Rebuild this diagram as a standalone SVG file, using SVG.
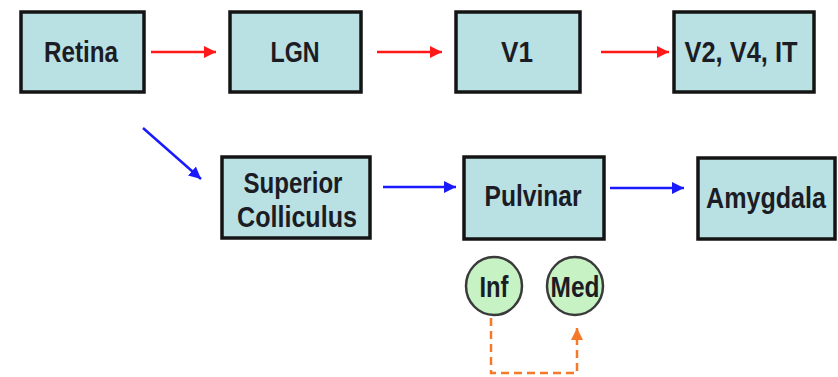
<svg xmlns="http://www.w3.org/2000/svg" width="838" height="377" viewBox="0 0 838 377">
<defs>
<style>
.box{fill:#b9e1e4;stroke:#141414;stroke-width:3.5}
.circ{fill:#c6f2c4;stroke:#3a3a3a;stroke-width:2.5}
.t{font-family:"Liberation Sans Narrow","Liberation Sans",Arial,sans-serif;font-weight:bold;font-size:29px;fill:#1c1c24;text-anchor:middle}
.red{stroke:#ff1a1a;stroke-width:2.5;fill:none;marker-end:url(#ar)}
.blue{stroke:#1a1aff;stroke-width:2.5;fill:none;marker-end:url(#ab)}
.org{stroke:#f47a2a;stroke-width:2.5;fill:none;stroke-dasharray:8 5;marker-end:url(#ao)}
</style>
<marker id="ar" markerUnits="userSpaceOnUse" markerWidth="14" markerHeight="12" refX="12" refY="6" orient="auto"><path d="M0,0 L12,6 L0,12 Z" fill="#ff1a1a"/></marker>
<marker id="ab" markerUnits="userSpaceOnUse" markerWidth="14" markerHeight="12" refX="12" refY="6" orient="auto"><path d="M0,0 L12,6 L0,12 Z" fill="#1a1aff"/></marker>
<marker id="ao" markerUnits="userSpaceOnUse" markerWidth="14" markerHeight="12" refX="12" refY="6" orient="auto"><path d="M0,0 L12,6 L0,12 Z" fill="#f47a2a"/></marker>
</defs>
<rect width="838" height="377" fill="#ffffff"/>
<g id="connectors">
<line class="red" x1="151" y1="52" x2="216" y2="52"/>
<line class="red" x1="377" y1="52" x2="442" y2="52"/>
<line class="red" x1="601" y1="52" x2="669" y2="52"/>
<line class="blue" x1="143" y1="128" x2="201" y2="179"/>
<line class="blue" x1="383" y1="187" x2="456" y2="187"/>
<line class="blue" x1="610" y1="188" x2="684" y2="188"/>
<path class="org" d="M491,318 V373 H577 V328"/>
</g>
<g id="retina"><rect class="box" x="21" y="12" width="123" height="80"/><text class="t" x="81" y="62" textLength="74" lengthAdjust="spacingAndGlyphs">Retina</text></g>
<g id="lgn"><rect class="box" x="230" y="12" width="131" height="80"/><text class="t" x="295" y="62" textLength="49" lengthAdjust="spacingAndGlyphs">LGN</text></g>
<g id="v1"><rect class="box" x="456" y="12" width="124" height="80"/><text class="t" x="517" y="62" textLength="32" lengthAdjust="spacingAndGlyphs">V1</text></g>
<g id="v2v4it"><rect class="box" x="674" y="12" width="140" height="80"/><text class="t" x="741" y="62" textLength="113" lengthAdjust="spacingAndGlyphs">V2, V4, IT</text></g>
<g id="superior-colliculus"><rect class="box" x="222" y="157" width="148" height="81"/><text class="t" x="293" y="193" textLength="99" lengthAdjust="spacingAndGlyphs">Superior</text><text class="t" x="297" y="227" textLength="120" lengthAdjust="spacingAndGlyphs">Colliculus</text></g>
<g id="pulvinar"><rect class="box" x="464" y="157" width="140" height="82"/><text class="t" x="533" y="206" textLength="97" lengthAdjust="spacingAndGlyphs">Pulvinar</text></g>
<g id="amygdala"><rect class="box" x="698" y="158" width="137" height="81"/><text class="t" x="766" y="208" textLength="120" lengthAdjust="spacingAndGlyphs">Amygdala</text></g>
<g id="inf"><ellipse class="circ" cx="494" cy="286" rx="28" ry="29"/><text class="t" x="494" y="297" textLength="29" lengthAdjust="spacingAndGlyphs">Inf</text></g>
<g id="med"><ellipse class="circ" cx="575" cy="286" rx="28" ry="29"/><text class="t" x="575" y="297" textLength="49" lengthAdjust="spacingAndGlyphs">Med</text></g>
</svg>
